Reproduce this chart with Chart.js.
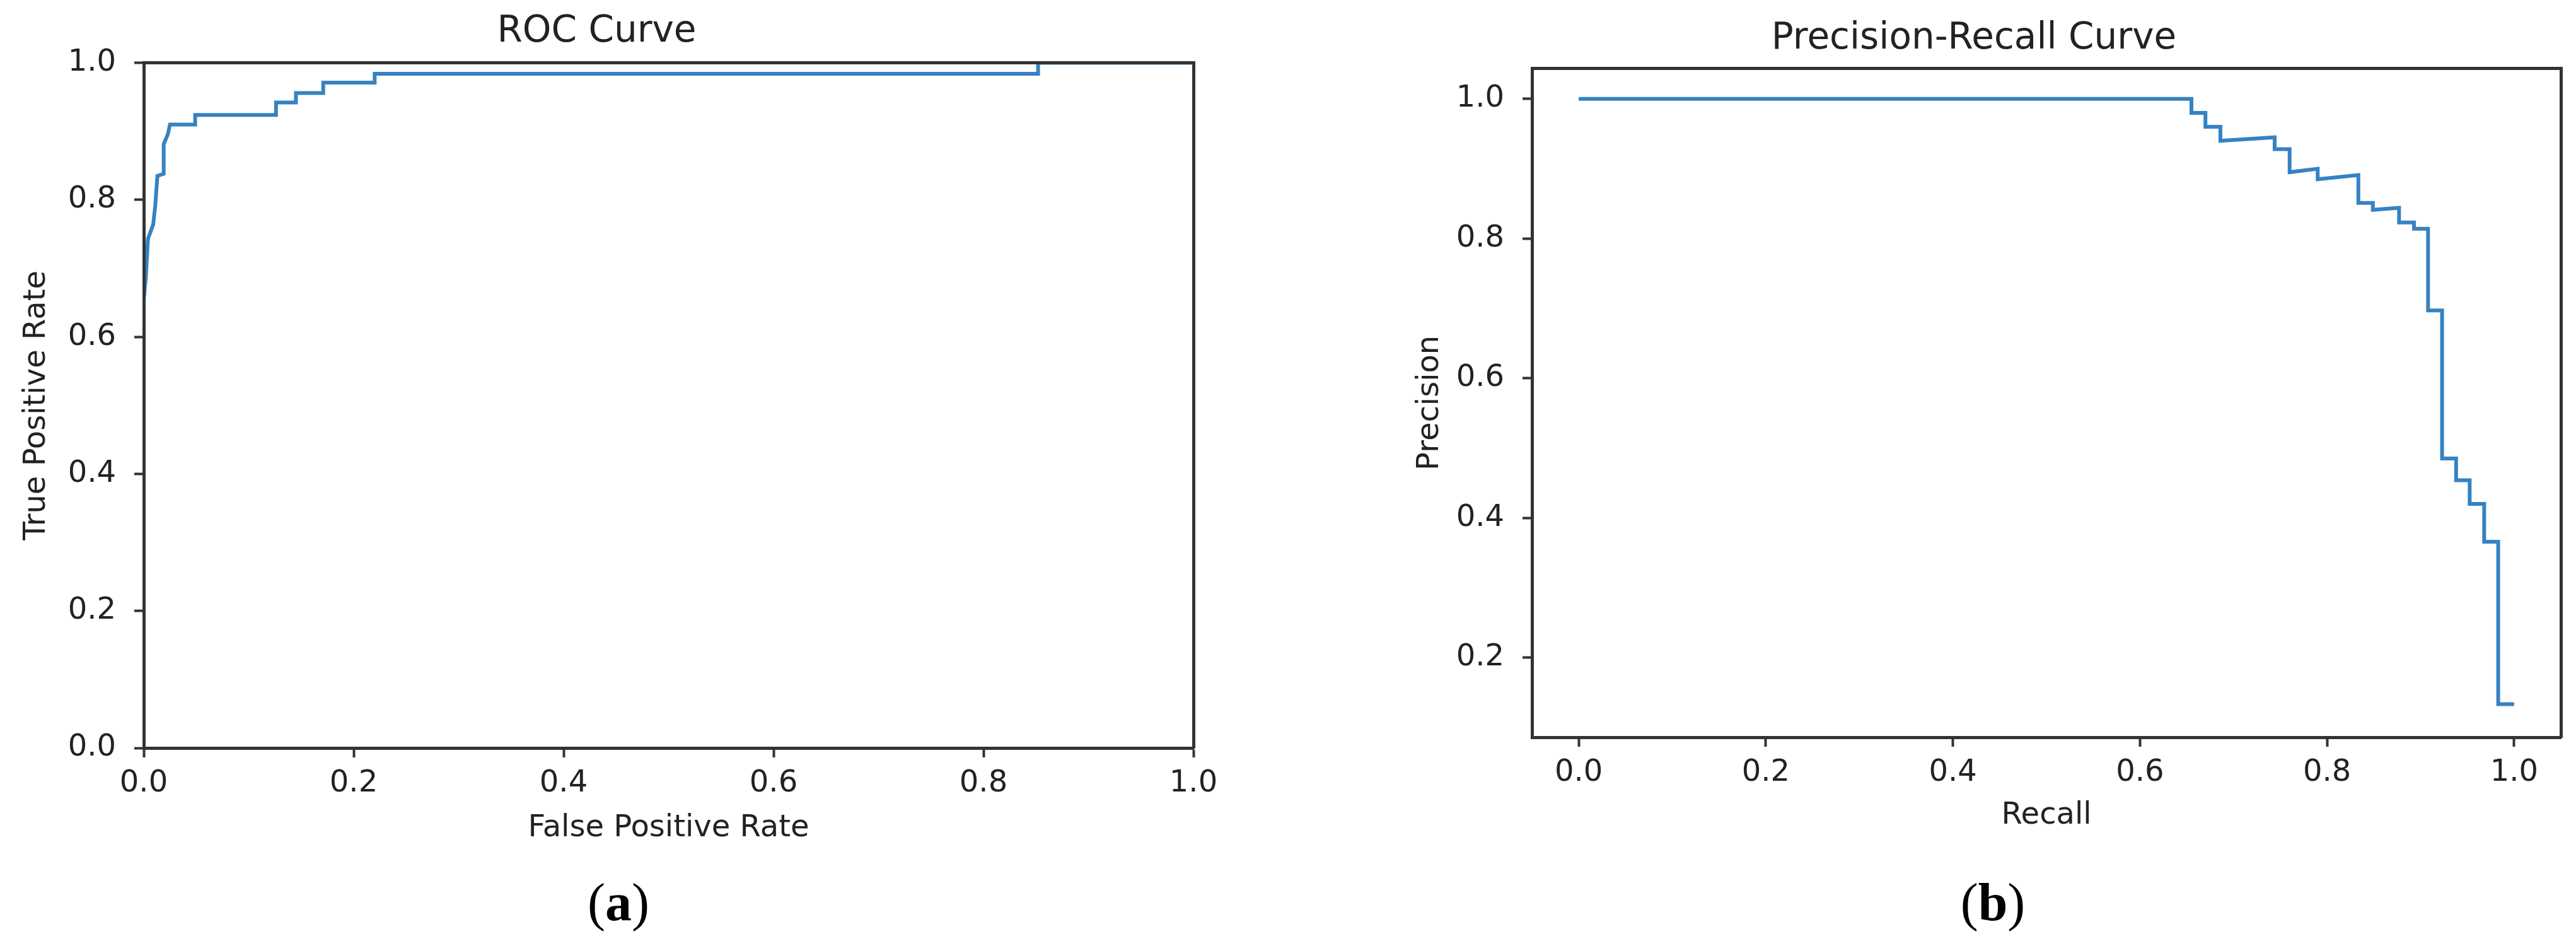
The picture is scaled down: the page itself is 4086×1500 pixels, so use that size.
<!DOCTYPE html>
<html>
<head>
<meta charset="utf-8">
<title>ROC and Precision-Recall curves</title>
<script src="https://cdn.jsdelivr.net/npm/chart.js@4.4.1/dist/chart.umd.min.js"></script>
<style>
  html, body { margin: 0; padding: 0; background: #fff; }
  body { width: 4086px; height: 1500px; position: relative; overflow: hidden; }
  canvas { position: absolute; top: 0; }
  #roc { left: 0; }
  #pr { left: 2200px; }
  .cap {
    position: absolute;
    top: 1389px;
    font-family: "Liberation Serif", "DejaVu Serif", serif;
    font-size: 84px;
    line-height: 84px;
    color: #000;
    transform: translateX(-50%);
    white-space: nowrap;
  }
</style>
</head>
<body>
<canvas id="roc" width="2000" height="1500"></canvas>
<canvas id="pr" width="1886" height="1500"></canvas>
<div class="cap" style="left:981px">(<b>a</b>)</div>
<div class="cap" style="left:3161px">(<b>b</b>)</div>

<script>
// ROC curve
const rocFpr = [0, 0, 0.002, 0.004, 0.009, 0.011, 0.013, 0.019, 0.019, 0.023, 0.025,
  0.049, 0.049, 0.126, 0.126, 0.145, 0.145, 0.171, 0.171, 0.220, 0.220, 0.852, 0.852, 1.0];
const rocTpr = [0, 0.655, 0.687, 0.743, 0.764, 0.792, 0.835, 0.838, 0.881, 0.896, 0.910,
  0.910, 0.924, 0.924, 0.942, 0.942, 0.956, 0.956, 0.971, 0.971, 0.984, 0.984, 1.0, 1.0];

// precision-recall curve
const prRecall = [0.0, 0.655, 0.655, 0.670, 0.670, 0.686, 0.686, 0.744, 0.744, 0.760, 0.760,
  0.790, 0.790, 0.8335, 0.8335, 0.849, 0.849, 0.877, 0.877, 0.893, 0.893, 0.908, 0.908,
  0.923, 0.923, 0.938, 0.938, 0.9525, 0.9525, 0.968, 0.968, 0.983, 0.983, 1.0];
const prPrecision = [1.0, 1.0, 0.980, 0.980, 0.960, 0.960, 0.940, 0.945, 0.928, 0.928, 0.895,
  0.900, 0.885, 0.891, 0.851, 0.851, 0.841, 0.844, 0.823, 0.823, 0.814, 0.814, 0.697,
  0.697, 0.485, 0.485, 0.454, 0.454, 0.420, 0.420, 0.366, 0.366, 0.1335, 0.1335];

// tick values
const rocTicks = [0.0, 0.2, 0.4, 0.6, 0.8, 1.0];
const prXTicks = [0.0, 0.2, 0.4, 0.6, 0.8, 1.0];
const prYTicks = [0.2, 0.4, 0.6, 0.8, 1.0];

const LINE = "#3682c2";
const INK = "#222";
const SPINE = "#333";

Chart.defaults.font.family = "'DejaVu Sans', sans-serif";
Chart.defaults.color = INK;

const toPoints = (xs, ys) => xs.map((x, i) => ({ x, y: ys[i] }));

// a plain frame side: only the border, no ticks
const frameSide = (position) => ({
  type: "linear",
  position,
  ticks: { display: false },
  grid: { display: false, drawTicks: false },
  border: { display: true, color: SPINE, width: 5, z: 1 },
  afterFit: (s) => {
    if (s.isHorizontal()) s.height = 0;
    else s.width = 0;
  },
});

const axis = (cfg) => ({
  type: "linear",
  position: cfg.position,
  min: cfg.min,
  max: cfg.max,
  afterBuildTicks: (s) => {
    s.ticks = cfg.ticks.map((v) => ({ value: v }));
  },
  ticks: {
    padding: cfg.position === "left" ? 29 : 13,
    font: { size: 48 },
    color: INK,
    maxRotation: 0,
    autoSkip: false,
    callback: (v) => Number(v).toFixed(1),
  },
  grid: {
    display: true,
    drawOnChartArea: false,
    drawTicks: true,
    tickLength: 15,
    tickWidth: 4,
    tickColor: SPINE,
  },
  // spines go on top of the curve, like matplotlib
  border: { display: true, color: SPINE, width: 5, z: 1 },
  title: {
    display: true,
    text: cfg.title,
    font: { size: 48 },
    color: INK,
    padding: cfg.position === "left" ? { top: cfg.titlePad, bottom: 0 } : { top: 0, bottom: 0 },
  },
  afterFit: (s) => {
    if (s.isHorizontal()) s.height = cfg.size;
    else s.width = cfg.size;
  },
});

function makeChart(id, o) {
  return new Chart(document.getElementById(id), {
    type: "line",
    data: {
      datasets: [
        {
          data: o.points,
          borderColor: LINE,
          borderWidth: 6,
          pointRadius: 0,
          tension: 0,
          fill: false,
          clip: 0,
        },
      ],
    },
    options: {
      responsive: false,
      animation: false,
      devicePixelRatio: 1,
      events: [],
      layout: { padding: o.padding },
      plugins: {
        legend: { display: false },
        tooltip: { enabled: false },
        title: {
          display: true,
          text: o.title,
          color: INK,
          font: { size: 58, weight: "normal" },
          padding: o.titlePad,
        },
      },
      scales: {
        x: axis(o.x),
        y: axis(o.y),
        x2: frameSide("top"),
        y2: frameSide("right"),
      },
    },
  });
}

makeChart("roc", {
  title: "ROC Curve",
  titlePad: { top: 16, bottom: 14 },
  padding: { left: 0, right: 107, top: 0, bottom: 158 },
  points: toPoints(rocFpr, rocTpr),
  x: { position: "bottom", min: 0, max: 1, ticks: rocTicks, title: "False Positive Rate", size: 156 },
  y: { position: "left", min: 0, max: 1, ticks: rocTicks, title: "True Positive Rate", size: 228, titlePad: 30 },
});

makeChart("pr", {
  title: "Precision-Recall Curve",
  titlePad: { top: 27, bottom: 12 },
  padding: { left: 0, right: 24, top: 0, bottom: 178 },
  points: toPoints(prRecall, prPrecision),
  x: { position: "bottom", min: -0.05, max: 1.05, ticks: prXTicks, title: "Recall", size: 153 },
  y: { position: "left", min: 0.086, max: 1.0435, ticks: prYTicks, title: "Precision", size: 230, titlePad: 40 },
});
</script>
</body>
</html>
